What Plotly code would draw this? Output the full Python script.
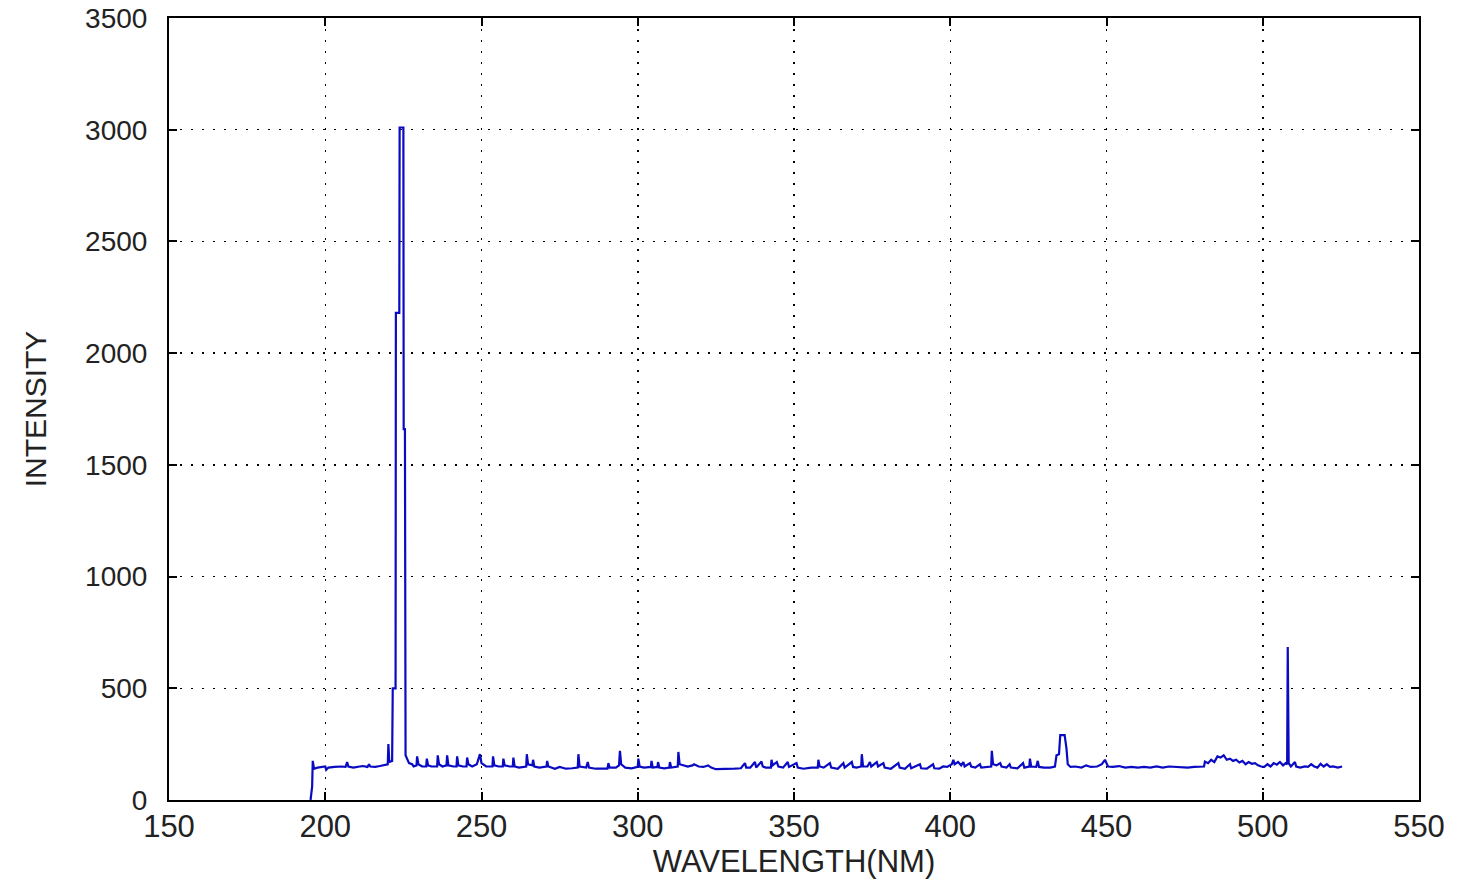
import plotly.graph_objects as go

# Spectrum points (wavelength in nm, intensity)
wavelength = [
    195.3, 195.8, 196.0, 196.4, 197.5, 199.0, 200.0, 200.3, 201.0, 203.0,
    205.0, 206.5, 207.0, 207.4, 209.0, 211.0, 212.0, 213.5, 214.0, 214.4,
    216.0, 217.5, 218.5, 219.3, 220.0, 220.2, 220.5, 221.4, 221.6, 222.5,
    222.6, 223.7, 223.8, 225.0, 225.1, 225.5, 225.7, 226.8, 227.8, 228.3,
    229.2, 229.4, 229.8, 231.0, 232.3, 232.5, 232.9, 234.0, 235.8, 236.0,
    236.4, 237.5, 238.8, 239.0, 239.4, 241.0, 242.0, 242.2, 242.6, 244.0,
    245.2, 245.4, 245.8, 247.0, 248.5, 249.5, 250.0, 251.5, 253.5, 253.7,
    254.1, 255.5, 256.8, 257.0, 257.4, 259.0, 260.0, 260.2, 260.6, 262.0,
    264.3, 264.5, 264.9, 266.3, 266.5, 266.9, 268.5, 270.8, 271.0, 271.4,
    273.5, 275.0, 277.0, 279.0, 280.8, 281.0, 281.4, 283.5, 284.0, 284.4,
    286.5, 289.0, 290.3, 290.6, 291.0, 293.0, 294.0, 294.3, 294.7, 296.0,
    298.0, 300.0, 300.2, 300.6, 302.0, 304.2, 304.4, 304.8, 306.3, 306.5,
    306.9, 308.5, 310.1, 310.3, 310.7, 312.8, 313.0, 313.4, 314.5, 316.0,
    317.5, 318.0, 319.5, 321.0, 322.5, 323.5, 325.0, 328.0, 331.0, 333.0,
    334.3, 334.7, 336.0, 337.5, 337.9, 339.6, 340.0, 341.0, 342.6, 342.8,
    343.2, 344.5, 345.0, 346.5, 348.0, 348.4, 350.8, 351.2, 353.0, 355.5,
    357.6, 357.8, 358.2, 359.5, 361.5, 361.9, 364.0, 365.8, 366.2, 368.5,
    368.9, 370.0, 371.5, 371.7, 372.1, 373.5, 374.3, 374.7, 376.5, 376.9,
    378.6, 379.0, 381.0, 383.4, 383.8, 385.5, 387.1, 387.5, 390.3, 390.7,
    392.5, 394.5, 394.9, 396.5, 397.7, 399.0, 400.5, 401.0, 401.4, 402.5,
    403.5, 404.2, 404.6, 406.3, 406.7, 408.0, 409.5, 409.9, 411.5, 413.1,
    413.3, 413.7, 414.8, 416.0, 416.4, 418.0, 419.0, 419.4, 421.5, 423.3,
    423.7, 425.3, 425.5, 425.9, 427.5, 428.0, 428.4, 430.0, 432.0, 433.5,
    434.0, 434.8, 435.2, 436.6, 437.2, 437.6, 438.5, 440.0, 442.0, 443.5,
    445.0, 447.0, 448.5, 449.5, 450.5, 452.0, 454.0, 456.0, 458.0, 460.0,
    462.0, 464.0, 466.0, 468.0, 470.0, 472.0, 474.0, 476.0, 478.0, 480.0,
    481.2, 481.5, 482.5, 483.5, 484.5, 485.5, 486.5, 487.5, 488.5, 489.5,
    490.5, 491.5, 492.5, 493.5, 494.5, 495.5, 496.5, 497.5, 498.5, 499.5,
    500.5, 501.5, 502.5, 503.5, 504.5, 505.5, 506.5, 507.3, 507.8, 508.0,
    508.3, 509.0, 510.3, 510.7, 512.0, 513.5, 514.5, 515.5, 516.5, 517.5,
    518.5, 519.5, 520.5, 521.5, 522.5, 524.0, 525.4,
]
intensity = [
    0, 60, 175, 140, 145, 148, 150, 135, 145, 148,
    150, 148, 170, 150, 145, 150, 152, 148, 160, 150,
    148, 152, 155, 160, 160, 250, 170, 175, 500, 500,
    2180, 2180, 3010, 3010, 1660, 1660, 200, 165, 160, 150,
    155, 195, 160, 150, 150, 185, 155, 150, 150, 200,
    160, 150, 155, 200, 155, 150, 150, 195, 155, 150,
    150, 190, 160, 150, 160, 205, 165, 150, 150, 195,
    155, 150, 150, 185, 155, 150, 150, 190, 150, 145,
    150, 205, 160, 155, 180, 150, 145, 150, 175, 150,
    140, 148, 140, 142, 145, 205, 150, 145, 170, 145,
    140, 140, 140, 165, 145, 145, 155, 220, 160, 145,
    142, 148, 185, 150, 145, 148, 175, 145, 148, 170,
    145, 142, 145, 170, 145, 150, 215, 160, 155, 150,
    155, 160, 150, 148, 155, 145, 138, 138, 140, 142,
    165, 145, 145, 170, 145, 172, 150, 145, 145, 180,
    155, 170, 150, 145, 170, 148, 165, 145, 140, 145,
    145, 180, 150, 145, 165, 145, 140, 165, 145, 170,
    148, 145, 150, 205, 150, 150, 170, 150, 170, 150,
    165, 145, 140, 165, 145, 140, 160, 142, 160, 142,
    140, 160, 142, 140, 150, 148, 160, 180, 160, 170,
    155, 170, 150, 165, 150, 145, 160, 145, 148, 150,
    220, 160, 155, 165, 150, 145, 160, 145, 142, 165,
    145, 150, 185, 150, 148, 175, 148, 145, 145, 150,
    200, 205, 290, 290, 230, 160, 148, 150, 145, 155,
    148, 150, 160, 180, 150, 148, 152, 145, 148, 145,
    148, 145, 150, 145, 150, 148, 145, 145, 148, 148,
    150, 172, 165, 180, 170, 195, 190, 200, 180, 185,
    175, 180, 168, 175, 160, 170, 162, 165, 155, 150,
    148, 160, 150, 165, 158, 170, 155, 165, 160, 685,
    165, 150, 170, 150, 145, 150, 148, 160, 150, 145,
    162, 150, 160, 148, 150, 145, 150,
]

x_ticks = [150, 200, 250, 300, 350, 400, 450, 500, 550]
y_ticks = [0, 500, 1000, 1500, 2000, 2500, 3000, 3500]

FONT = "Liberation Sans, Arial, sans-serif"
TXT = "#222"

fig = go.Figure()
fig.add_trace(go.Scatter(
    x=wavelength, y=intensity, mode="lines",
    line=dict(color="rgb(10,10,195)", width=2.2),
    showlegend=False,
))

axis_common = dict(
    showline=True, linecolor="black", linewidth=2, mirror="ticks",
    ticks="inside", ticklen=8, tickwidth=2, tickcolor="black",
    showgrid=True, gridcolor="black", gridwidth=1.5, griddash="2px,9px",
    zeroline=False, automargin=False, ticklabeloverflow="allow",
)

fig.update_layout(
    width=1457, height=885,
    margin=dict(l=169, r=38, t=18, b=85),
    paper_bgcolor="white", plot_bgcolor="white",
    font=dict(family=FONT, color=TXT),
    hovermode=False,
    xaxis=dict(
        range=[150, 550], tickvals=x_ticks, ticktext=[str(v) for v in x_ticks],
        title=dict(text="WAVELENGTH(NM)", font=dict(family=FONT, size=31, color=TXT), standoff=0),
        ticklabelstandoff=-2,
        tickfont=dict(family=FONT, size=31, color=TXT),
        **axis_common,
    ),
    yaxis=dict(
        range=[0, 3500], tickvals=y_ticks, ticktext=[str(v) for v in y_ticks],
        title=dict(text="INTENSITY", font=dict(family=FONT, size=30, color=TXT), standoff=30),
        ticklabelstandoff=14,
        tickfont=dict(family=FONT, size=28, color=TXT),
        **axis_common,
    ),
)

fig.write_html(
    "out.html",
    config={"displayModeBar": False, "staticPlot": True},
    post_script="document.body.style.margin='0';document.body.style.overflow='hidden';",
)
